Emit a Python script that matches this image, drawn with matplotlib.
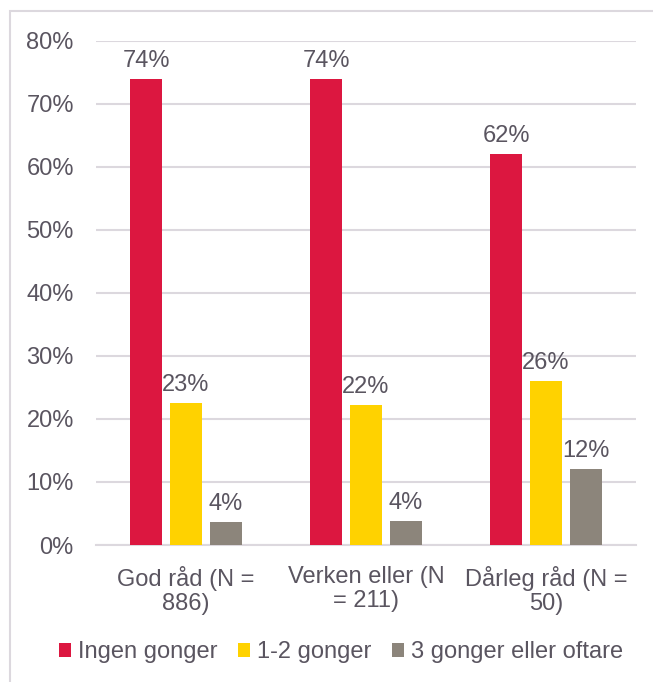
import numpy as np
import matplotlib.pyplot as plt
from matplotlib.patches import Rectangle

plt.rcParams['font.family'] = ['Liberation Sans', 'DejaVu Sans']

categories = ['God råd (N =\n886)', 'Verken eller (N\n= 211)', 'Dårleg råd (N =\n50)']
series = ['Ingen gonger', '1-2 gonger', '3 gonger eller oftare']
ingen = [74, 74, 62]
en_to = [22.6, 22.3, 26]
tre = [3.6, 3.8, 12]
labels = [['74%', '74%', '62%'], ['23%', '22%', '26%'], ['4%', '4%', '12%']]
colors = ['#DC1740', '#FFD200', '#8C857B']
txt = '#5a5560'
grid = '#dcd8de'

fig = plt.figure(figsize=(6.53, 6.82), dpi=100)
ax = fig.add_axes([96/653, 1-545/682, 540/653, 504/682])

# frame around the chart (only top and left visible)
fig.patches.append(Rectangle((10/653, -0.1), 2, 1.1 - 11/682, transform=fig.transFigure,
                             fill=False, edgecolor=grid, lw=1.5))

x = np.arange(len(categories))
w = 32/180
step = 40/180
for i, vals in enumerate([ingen, en_to, tre]):
    bars = ax.bar(x + (i-1)*step, vals, width=w, color=colors[i], label=series[i], zorder=3)
    for b, lab in zip(bars, labels[i]):
        ax.text(b.get_x() + b.get_width()/2, b.get_height() + 1.1, lab,
                ha='center', va='bottom', fontsize=17, color=txt)

ax.set_ylim(0, 80)
ax.set_xlim(-0.5, 2.5)
ax.set_yticks(range(0, 81, 10))
ax.set_yticklabels([f'{v}%' for v in range(0, 81, 10)])
ax.set_xticks(x)
ax.set_xticklabels(categories, linespacing=1.15)
ax.tick_params(length=0, labelsize=17, colors=txt)
ax.tick_params(axis='y', pad=16)
ax.tick_params(axis='x', pad=15)
ax.grid(axis='y', color=grid, lw=1.5, zorder=0)
for s in ['left', 'right', 'top']:
    ax.spines[s].set_visible(False)
ax.spines['bottom'].set_color(grid)
ax.spines['bottom'].set_linewidth(1.5)

leg = fig.legend(loc='center', bbox_to_anchor=(341/653, 1-652/682), ncol=3, frameon=False,
                 fontsize=17, handlelength=0.52, handleheight=0.52, handletextpad=0.3,
                 columnspacing=0.85, labelcolor=txt)

fig.savefig('out.png', dpi=100)
